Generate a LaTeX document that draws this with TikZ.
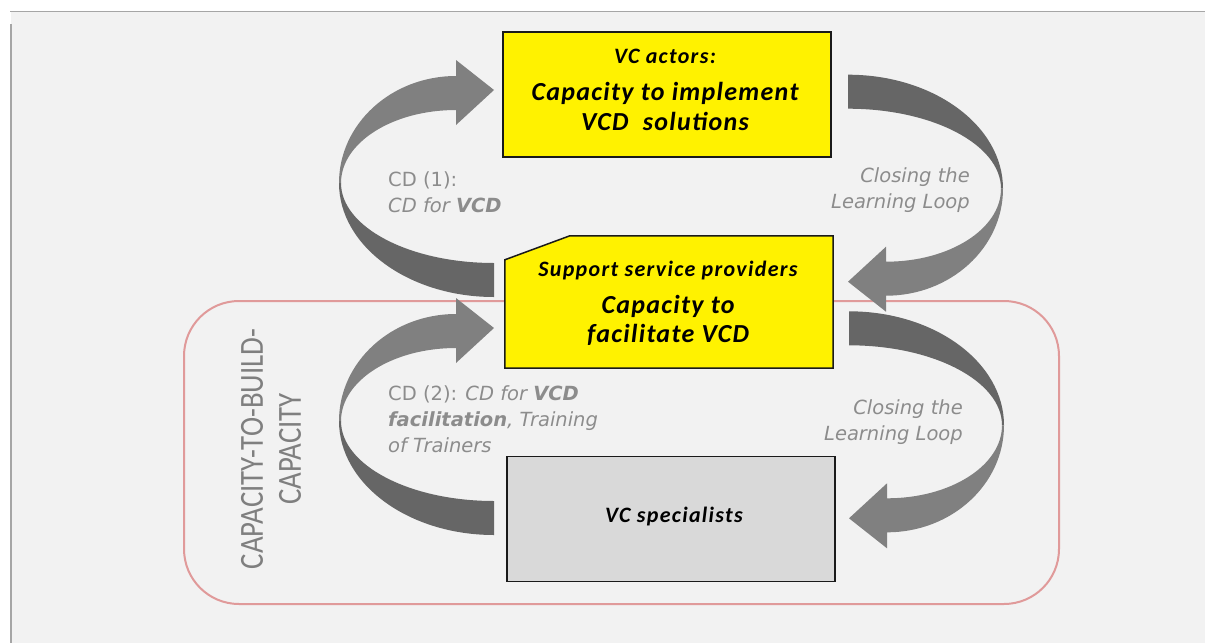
\documentclass[tikz,border=0pt]{standalone}
\usepackage{fontspec}
\setmainfont{Carlito}
\newfontfamily\lblfont{DejaVu Sans}
\usetikzlibrary{calc}
\definecolor{bgc}{HTML}{F2F2F2}
\definecolor{framec}{HTML}{A6A6A6}
\definecolor{redc}{HTML}{E09A9A}
\definecolor{arrdark}{HTML}{666666}
\definecolor{arrlight}{HTML}{808080}
\definecolor{lblc}{HTML}{8C8C8C}
\definecolor{ctbc}{HTML}{7F7F7F}
\definecolor{boxline}{HTML}{1A1A1A}
\definecolor{specfill}{HTML}{D9D9D9}
\tikzset{
  curvarrow/.pic={
    \fill[arrdark] (-155,93) arc[start angle=180,end angle=90,x radius=155,y radius=114]
      -- (0,173) arc[start angle=90,end angle=180,x radius=153,y radius=80] -- cycle;
    \fill[arrlight] (-38,-30) -- (0,0) -- (-38,35) -- (-38,20)
      arc[start angle=270,end angle=180,x radius=115,y radius=73]
      -- (-155,93) arc[start angle=180,end angle=270,x radius=117,y radius=107] -- cycle;
  },
  boxshape/.style={draw=boxline, line width=1.5pt, inner sep=0pt},
  bigtxt/.style={inner sep=0pt, align=center, font=\fontsize{26}{30}\selectfont\bfseries\itshape\addfontfeatures{LetterSpace=5}},
  smalltxt/.style={inner sep=0pt, align=center, font=\fontsize{22}{24}\selectfont\bfseries\itshape\addfontfeatures{LetterSpace=6}},
  lbl/.style={inner sep=0pt, text=lblc, font=\lblfont\fontsize{19.5}{26}\selectfont}
}
\begin{document}
\begin{tikzpicture}[x=1pt,y=-1pt]
\useasboundingbox (0,0) rectangle (1205,643);
\fill[white] (0,0) rectangle (1205,643);
\fill[bgc] (11,12) rectangle (1205,643);
\draw[framec, line width=1.5pt] (10,11.5) -- (1205,11.5);
\draw[framec, line width=1.5pt] (11,24) -- (11,643);

% capacity-to-build-capacity frame
\draw[redc, line width=2pt, rounded corners=55pt] (184,301) rectangle (1059,604);
\node[rotate=90, text=ctbc, align=center, inner sep=0pt, font=\fontsize{33.7}{38}\selectfont] (ctb) at (271,449)
  {\scalebox{0.855}[1]{CAPACITY-TO-BUILD-}\\\scalebox{0.855}[1]{CAPACITY}};

% curved arrows
\pic at (494,90) {curvarrow};
\pic at (494,328) {curvarrow};
\pic[rotate=180] at (848,281.7) {curvarrow};
\pic[rotate=180] at (849,518.3) {curvarrow};

% boxes
\node[boxshape, fill=yellow, minimum width=328pt, minimum height=125pt] (actors) at (667,94.7) {};
\node[inner sep=0pt, minimum width=328pt, minimum height=132pt] (ssp) at (669,302) {};
\draw[boxline, line width=1.5pt, fill=yellow] ($(ssp.north west)+(65,0)$) -- (ssp.north east) -- (ssp.south east)
  -- (ssp.south west) -- ($(ssp.north west)+(0,24)$) -- cycle;
\node[boxshape, fill=specfill, minimum width=328pt, minimum height=125pt] (spec) at (671,519) {};

% box texts (base anchor = baseline of last line)
\node[smalltxt, anchor=base] (t1) at (665,63) {VC actors:};
\node[bigtxt, anchor=base] (t2) at (665,130) {Capacity to implement\\VCD\ \ solutions};
\node[smalltxt, anchor=base] (t3) at (668,276) {Support service providers};
\node[bigtxt, anchor=base, font=\fontsize{26}{28.5}\selectfont\bfseries\itshape\addfontfeatures{LetterSpace=5}] (t4) at (668,342) {Capacity to\\facilitate VCD};
\node[smalltxt, anchor=base] (t5) at (674,522) {VC specialists};

% labels
\node[lbl, align=left, anchor=base west] (cd1) at (388,212) {CD (1):\\\textit{CD for \textbf{VCD}}};
\node[lbl, align=right, anchor=base east] (cl1) at (970,208.7) {\textit{Closing the}\\\textit{Learning Loop}};
\node[lbl, align=left, anchor=base west] (cd2) at (388,452)
  {CD (2): \textit{CD for \textbf{VCD}}\\\textit{\textbf{facilitation},\ Training}\\\textit{of Trainers}};
\node[lbl, align=right, anchor=base east] (cl2) at (963,440.3) {\textit{Closing the}\\\textit{Learning Loop}};
\end{tikzpicture}
\end{document}
